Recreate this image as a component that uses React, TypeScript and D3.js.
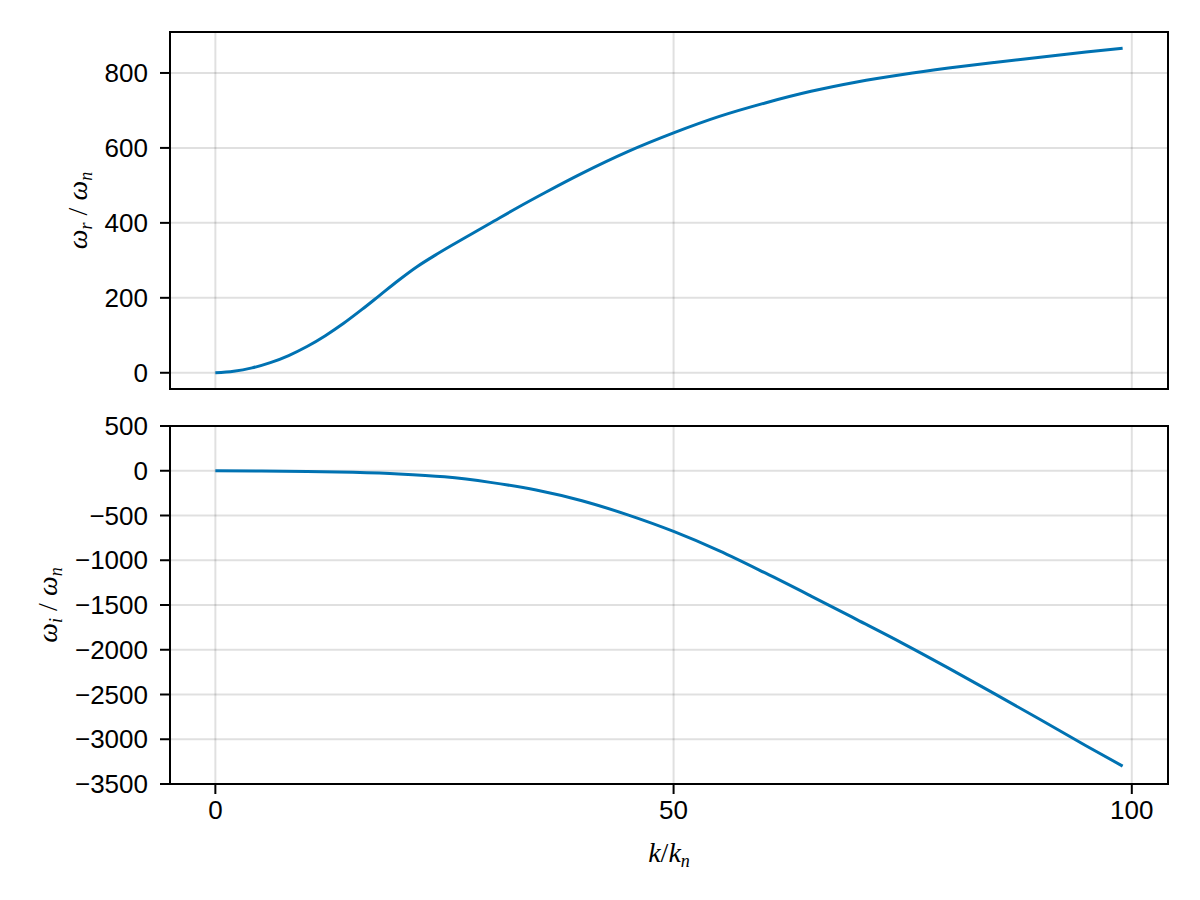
import React from "react";
import * as d3 from "d3";

const kValues = [0, 2, 4, 6, 8, 10, 12, 14, 16, 18, 20, 22, 24, 26, 28, 30, 33, 36, 40, 45, 50, 55, 60, 65, 70, 75, 80, 85, 90, 95, 99];
const omegaR = [0, 4, 13, 27, 46, 70, 99, 132, 169, 208, 247, 283, 314, 343, 371, 399, 441, 481, 532, 590, 640, 684, 720, 751, 776, 796, 813, 828, 842, 856, 866];

const kValuesI = [0, 5, 10, 15, 20, 25, 30, 35, 40, 45, 50, 55, 60, 65, 70, 75, 80, 85, 90, 95, 99];
const omegaI = [0, -2, -7, -17, -35, -68, -130, -215, -335, -493, -678, -895, -1142, -1400, -1663, -1928, -2205, -2490, -2780, -3072, -3300];

const xTicks = [0, 50, 100];
const yTicksTop = [0, 200, 400, 600, 800];
const yTicksBottom = [500, 0, -500, -1000, -1500, -2000, -2500, -3000, -3500];
const bottomLimits: [number, number] = [-3500, 500];

const W = 1200;
const H = 900;
const L = 170;
const R = 1168;
const TOP1 = 32;
const BOT1 = 389;
const TOP2 = 426;
const BOT2 = 784;

const BLUE = "#0072B2";
const GRID = "rgba(0,0,0,0.12)";
const TICKFONT = "'Liberation Sans', Arial, Helvetica, sans-serif";
const MATHFONT = "'Liberation Serif', 'DejaVu Serif', serif";

const fmt = (v: number) => (v < 0 ? "\u2212" + Math.abs(v) : String(v));

export default function App() {
  const allK = kValues.concat(kValuesI);
  const kMin = d3.min(allK) as number;
  const kMax = d3.max(allK) as number;
  const kPad = (kMax - kMin) * 0.05;
  const x = d3.scaleLinear().domain([kMin - kPad, kMax + kPad]).range([L, R]);

  const rMin = d3.min(omegaR) as number;
  const rMax = d3.max(omegaR) as number;
  const rPad = (rMax - rMin) * 0.05;
  const y1 = d3.scaleLinear().domain([rMin - rPad, rMax + rPad]).range([BOT1, TOP1]);
  const y2 = d3.scaleLinear().domain(bottomLimits).range([BOT2, TOP2]);

  const line1 = d3
    .line<number>()
    .x((_, i) => x(kValues[i]))
    .y((d) => y1(d))
    .curve(d3.curveMonotoneX);
  const line2 = d3
    .line<number>()
    .x((_, i) => x(kValuesI[i]))
    .y((d) => y2(d))
    .curve(d3.curveMonotoneX);

  const panel = (
    top: number,
    bot: number,
    y: d3.ScaleLinear<number, number>,
    ticks: number[],
    path: string,
    clipId: string
  ) => (
    <g>
      <defs>
        <clipPath id={clipId}>
          <rect x={L} y={top} width={R - L} height={bot - top} />
        </clipPath>
      </defs>
      {xTicks.map((t) => (
        <line key={"gx" + t} x1={x(t)} x2={x(t)} y1={top} y2={bot} stroke={GRID} strokeWidth={2} />
      ))}
      {ticks.map((t) => (
        <line key={"gy" + t} x1={L} x2={R} y1={y(t)} y2={y(t)} stroke={GRID} strokeWidth={2} />
      ))}
      <path d={path} fill="none" stroke={BLUE} strokeWidth={3} clipPath={`url(#${clipId})`} />
      <rect x={L} y={top} width={R - L} height={bot - top} fill="none" stroke="#000" strokeWidth={2} />
      {ticks.map((t) => (
        <g key={"ty" + t}>
          <line x1={L - 10} x2={L} y1={y(t)} y2={y(t)} stroke="#000" strokeWidth={2} />
          <text
            x={148}
            y={y(t)}
            textAnchor="end"
            dominantBaseline="central"
            fontFamily={TICKFONT}
            fontSize={26}
            fill="#000"
          >
            {fmt(t)}
          </text>
        </g>
      ))}
    </g>
  );

  return (
    <svg width={W} height={H} style={{ display: "block", position: "absolute", left: 0, top: 0, background: "#fff" }}>
      <rect x={0} y={0} width={W} height={H} fill="#fff" />
      {panel(TOP1, BOT1, y1, yTicksTop, line1(omegaR) || "", "clipTop")}
      {panel(TOP2, BOT2, y2, yTicksBottom, line2(omegaI) || "", "clipBot")}
      {xTicks.map((t) => (
        <g key={"tx" + t}>
          <line x1={x(t)} x2={x(t)} y1={BOT2} y2={BOT2 + 10} stroke="#000" strokeWidth={2} />
          <text
            x={x(t)}
            y={BOT2 + 16}
            textAnchor="middle"
            dominantBaseline="hanging"
            fontFamily={TICKFONT}
            fontSize={26}
            fill="#000"
          >
            {t}
          </text>
        </g>
      ))}
      <text
        transform={`translate(87, ${(TOP1 + BOT1) / 2}) rotate(-90)`}
        textAnchor="middle"
        fontFamily={MATHFONT}
        fontSize={28}
        fill="#000"
      >
        <tspan fontStyle="italic">ω</tspan>
        <tspan fontStyle="italic" fontSize={18} dy={5}>r</tspan>
        <tspan dy={-5}> / </tspan>
        <tspan fontStyle="italic">ω</tspan>
        <tspan fontStyle="italic" fontSize={18} dy={5}>n</tspan>
      </text>
      <text
        transform={`translate(57, ${(TOP2 + BOT2) / 2}) rotate(-90)`}
        textAnchor="middle"
        fontFamily={MATHFONT}
        fontSize={28}
        fill="#000"
      >
        <tspan fontStyle="italic">ω</tspan>
        <tspan fontStyle="italic" fontSize={18} dy={5}>i</tspan>
        <tspan dy={-5}> / </tspan>
        <tspan fontStyle="italic">ω</tspan>
        <tspan fontStyle="italic" fontSize={18} dy={5}>n</tspan>
      </text>
      <text x={(L + R) / 2} y={862} textAnchor="middle" fontFamily={MATHFONT} fontSize={28} fill="#000">
        <tspan fontStyle="italic">k</tspan>
        <tspan>/</tspan>
        <tspan fontStyle="italic">k</tspan>
        <tspan fontStyle="italic" fontSize={18} dy={5}>n</tspan>
      </text>
    </svg>
  );
}
